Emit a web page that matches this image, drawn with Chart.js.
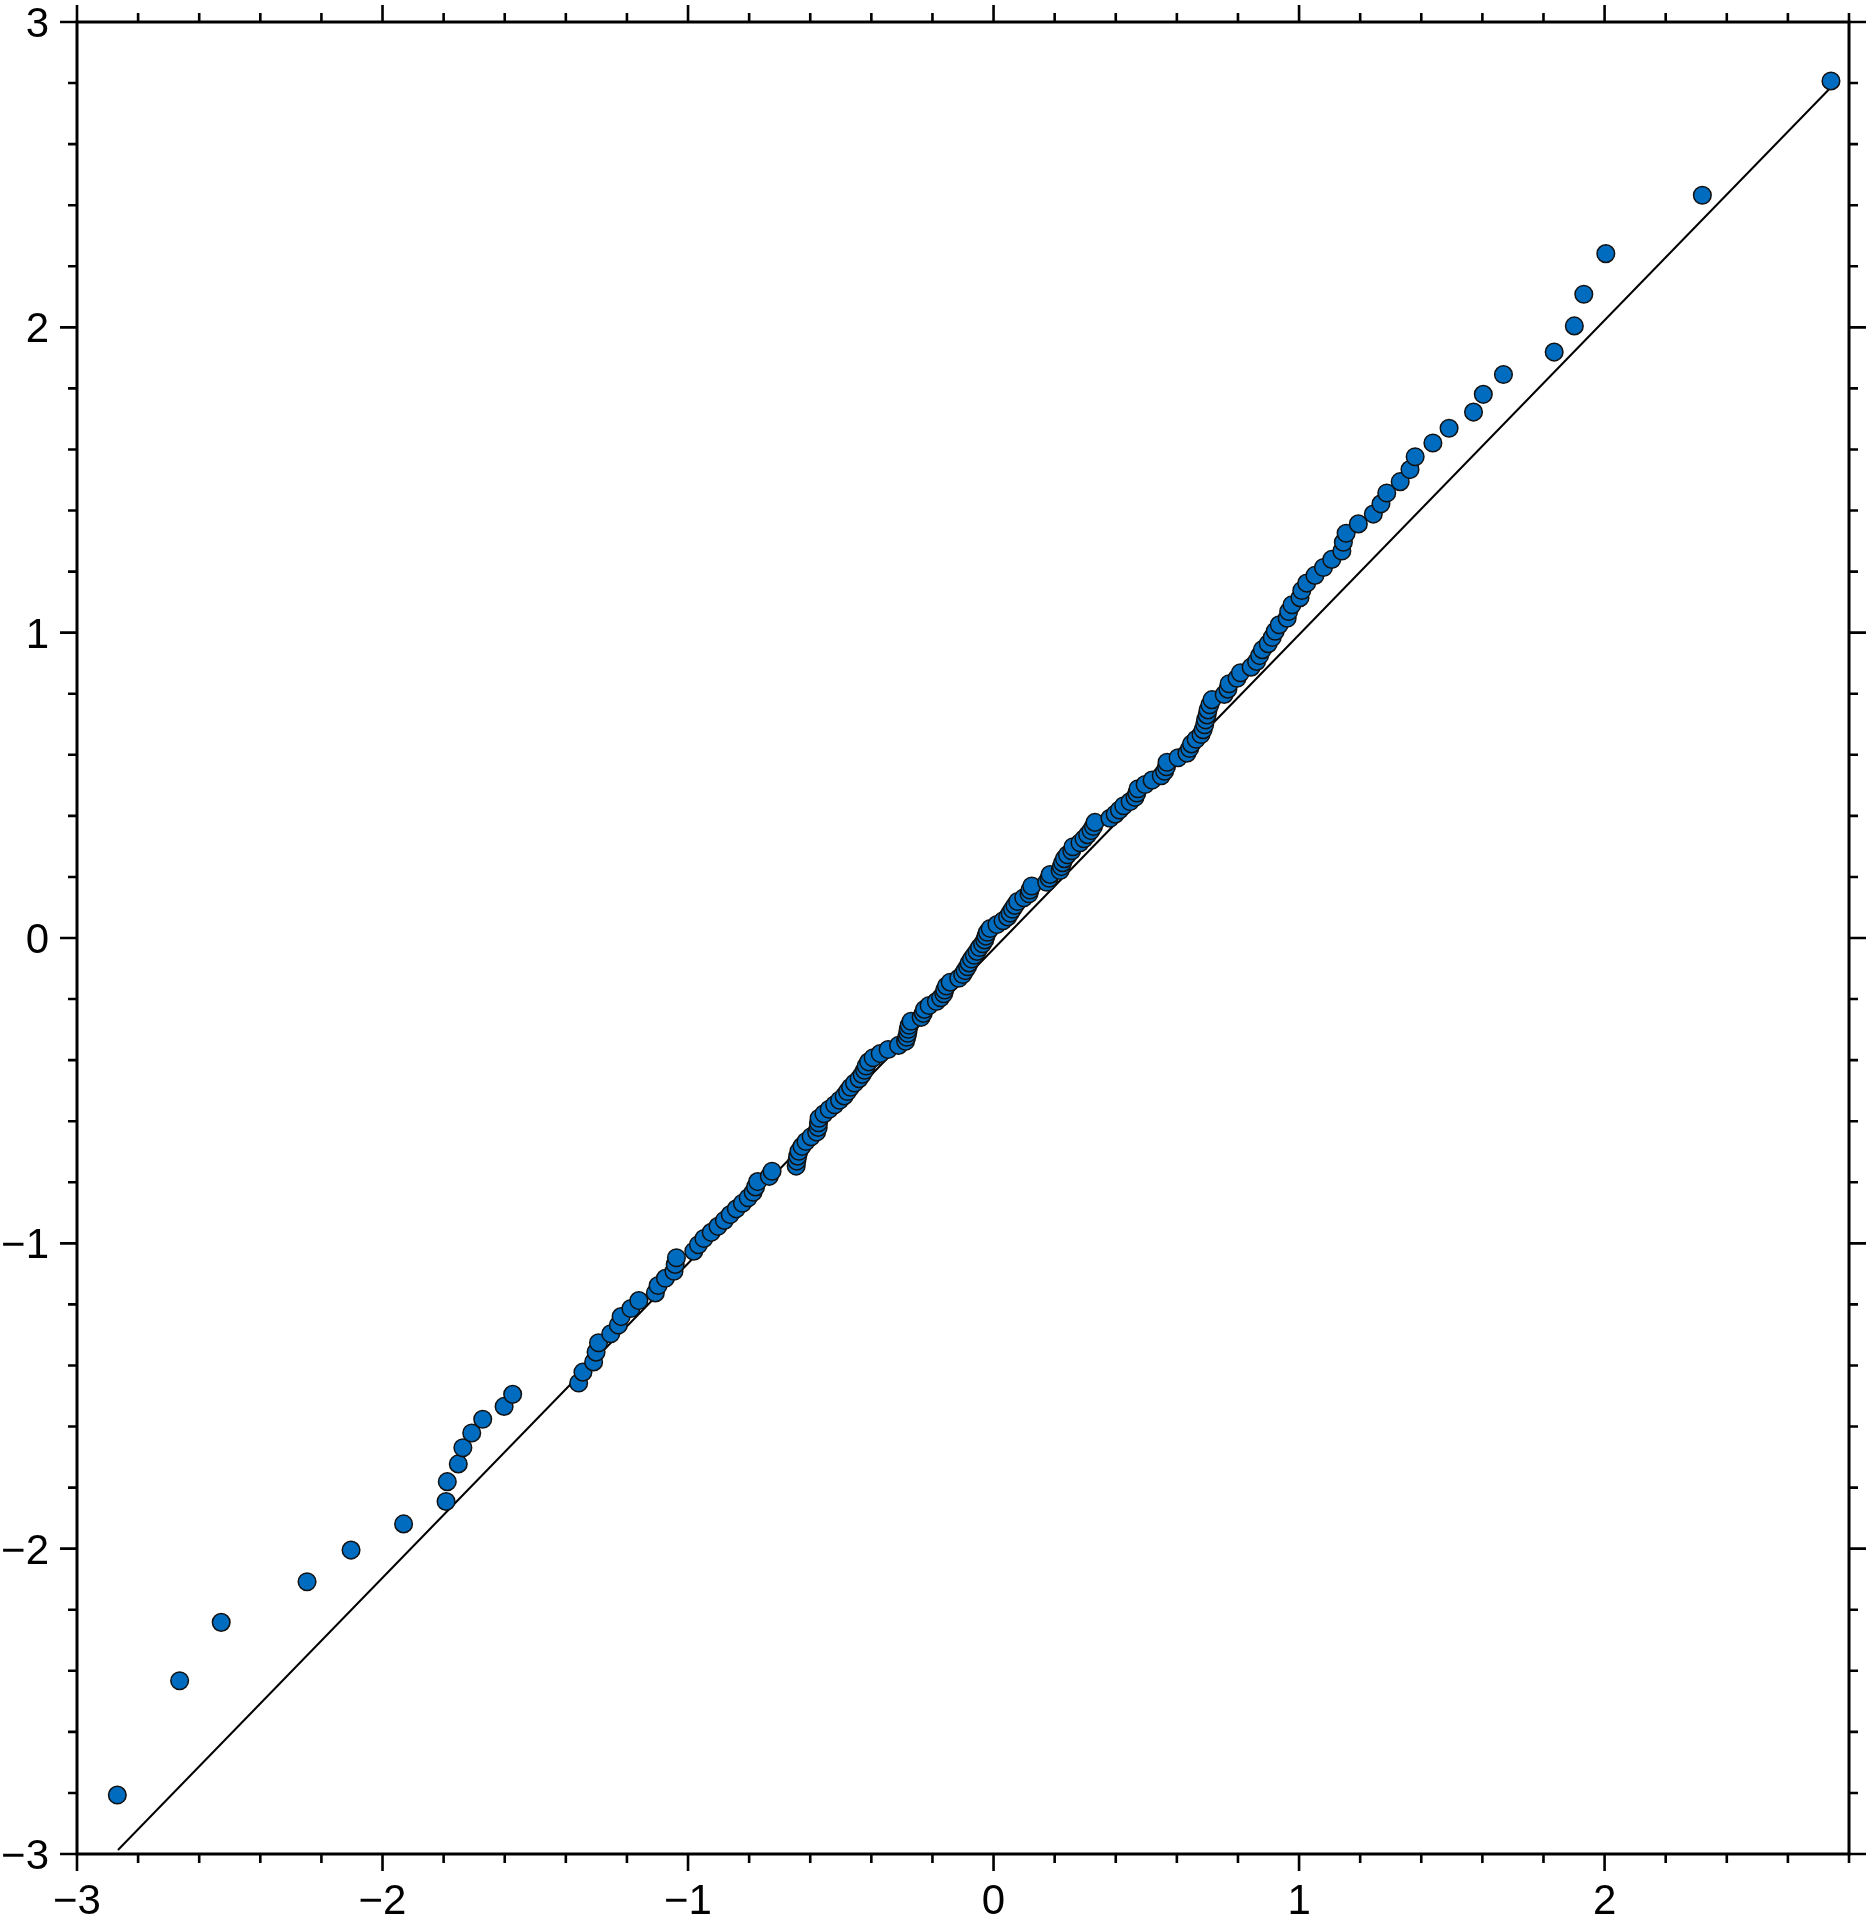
<!DOCTYPE html>
<html>
<head>
<meta charset="utf-8">
<title>Q-Q plot</title>
<script src="https://cdn.jsdelivr.net/npm/chart.js@4.4.0/dist/chart.umd.min.js"></script>
<style>
  html, body { margin: 0; padding: 0; background: #ffffff; }
  #wrap { width: 1871px; height: 1918px; }
</style>
</head>
<body>
<div id="wrap"><canvas id="qq" width="1871" height="1918"></canvas></div>
<script>
// theoretical normal quantiles (y) and sorted sample values (x)
const theoretical = [
  -2.8070, -2.4324, -2.2414, -2.1084, -2.0047, -1.9189, -1.8453, -1.7805, -1.7224, -1.6696,
  -1.6211, -1.5762, -1.5341, -1.4946, -1.4574, -1.4219, -1.3884, -1.3563, -1.3256, -1.2960,
  -1.2675, -1.2400, -1.2134, -1.1876, -1.1624, -1.1382, -1.1146, -1.0916, -1.0691, -1.0472,
  -1.0257, -1.0048, -0.9842, -0.9640, -0.9443, -0.9249, -0.9059, -0.8871, -0.8687, -0.8506,
  -0.8327, -0.8151, -0.7978, -0.7806, -0.7637, -0.7471, -0.7306, -0.7144, -0.6983, -0.6824,
  -0.6666, -0.6511, -0.6357, -0.6204, -0.6053, -0.5903, -0.5754, -0.5607, -0.5461, -0.5316,
  -0.5172, -0.5029, -0.4888, -0.4747, -0.4607, -0.4468, -0.4330, -0.4193, -0.4056, -0.3921,
  -0.3786, -0.3651, -0.3518, -0.3385, -0.3252, -0.3120, -0.2989, -0.2858, -0.2728, -0.2598,
  -0.2468, -0.2339, -0.2211, -0.2082, -0.1955, -0.1828, -0.1701, -0.1573, -0.1447, -0.1320,
  -0.1194, -0.1068, -0.0942, -0.0816, -0.0690, -0.0564, -0.0439, -0.0313, -0.0188, -0.0063,
  0.0063, 0.0188, 0.0313, 0.0439, 0.0564, 0.0690, 0.0816, 0.0942, 0.1068, 0.1194,
  0.1320, 0.1447, 0.1573, 0.1701, 0.1828, 0.1955, 0.2082, 0.2211, 0.2339, 0.2468,
  0.2598, 0.2728, 0.2858, 0.2989, 0.3120, 0.3252, 0.3385, 0.3518, 0.3651, 0.3786,
  0.3921, 0.4056, 0.4193, 0.4330, 0.4468, 0.4607, 0.4747, 0.4888, 0.5029, 0.5172,
  0.5316, 0.5461, 0.5607, 0.5754, 0.5903, 0.6053, 0.6204, 0.6357, 0.6511, 0.6666,
  0.6824, 0.6983, 0.7144, 0.7306, 0.7471, 0.7637, 0.7806, 0.7978, 0.8151, 0.8327,
  0.8506, 0.8687, 0.8871, 0.9059, 0.9249, 0.9443, 0.9640, 0.9842, 1.0048, 1.0257,
  1.0472, 1.0691, 1.0916, 1.1146, 1.1382, 1.1624, 1.1876, 1.2134, 1.2400, 1.2675,
  1.2960, 1.3256, 1.3563, 1.3884, 1.4219, 1.4574, 1.4946, 1.5341, 1.5762, 1.6211,
  1.6696, 1.7224, 1.7805, 1.8453, 1.9189, 2.0047, 2.1084, 2.2414, 2.4324, 2.8070
];
const sample = [
  -2.868, -2.664, -2.528, -2.247, -2.103, -1.931, -1.792, -1.788, -1.752, -1.737,
  -1.708, -1.672, -1.602, -1.574, -1.358, -1.344, -1.309, -1.301, -1.293, -1.253,
  -1.228, -1.219, -1.187, -1.161, -1.107, -1.098, -1.074, -1.046, -1.042, -1.038,
  -0.981, -0.966, -0.948, -0.924, -0.902, -0.881, -0.862, -0.842, -0.822, -0.803,
  -0.787, -0.779, -0.772, -0.734, -0.725, -0.646, -0.644, -0.641, -0.637, -0.627,
  -0.614, -0.597, -0.579, -0.574, -0.573, -0.571, -0.555, -0.538, -0.520, -0.504,
  -0.489, -0.478, -0.468, -0.455, -0.440, -0.430, -0.422, -0.417, -0.409, -0.394,
  -0.371, -0.345, -0.311, -0.288, -0.284, -0.281, -0.279, -0.276, -0.270, -0.237,
  -0.230, -0.226, -0.211, -0.187, -0.173, -0.163, -0.160, -0.154, -0.142, -0.114,
  -0.101, -0.093, -0.085, -0.080, -0.072, -0.063, -0.054, -0.046, -0.036, -0.029,
  -0.025, -0.020, -0.011, 0.011, 0.031, 0.046, 0.054, 0.062, 0.070, 0.079,
  0.099, 0.116, 0.119, 0.125, 0.174, 0.182, 0.185, 0.218, 0.222, 0.226,
  0.232, 0.242, 0.256, 0.260, 0.283, 0.296, 0.308, 0.319, 0.327, 0.332,
  0.381, 0.398, 0.412, 0.426, 0.447, 0.463, 0.469, 0.473, 0.496, 0.519,
  0.549, 0.560, 0.566, 0.568, 0.604, 0.633, 0.642, 0.648, 0.663, 0.679,
  0.686, 0.691, 0.694, 0.699, 0.702, 0.708, 0.715, 0.755, 0.767, 0.771,
  0.797, 0.808, 0.843, 0.861, 0.871, 0.880, 0.899, 0.912, 0.922, 0.935,
  0.961, 0.966, 0.977, 1.003, 1.009, 1.025, 1.052, 1.080, 1.107, 1.140,
  1.145, 1.154, 1.194, 1.243, 1.268, 1.287, 1.331, 1.363, 1.380, 1.438,
  1.491, 1.571, 1.603, 1.669, 1.835, 1.901, 1.932, 2.004, 2.320, 2.741
];

// reference line end points
const lineX = [-2.866, 2.738];
const lineY = [-2.987, 2.783];

// axis ticks
const xTicks = [-3, -2, -1, 0, 1, 2];
const yTicks = [-3, -2, -1, 0, 1, 2, 3];
const minorTicks = [-2.8, -2.6, -2.4, -2.2, -1.8, -1.6, -1.4, -1.2, -0.8, -0.6, -0.4, -0.2,
                    0.2, 0.4, 0.6, 0.8, 1.2, 1.4, 1.6, 1.8, 2.2, 2.4, 2.6, 2.8];

const pts = sample.map((x, i) => ({ x: x, y: theoretical[i] }));
const linePts = lineX.map((x, i) => ({ x: x, y: lineY[i] }));

function label(v) {
    return v < 0 ? '\u2212' + Math.abs(v) : String(v);
}

// frame, ticks on all sides, labels on left and bottom (GMT style)
const gmtFrame = {
    id: 'gmtFrame',
    afterDraw(chart) {
        const ctx = chart.ctx;
        const a = chart.chartArea;
        const xs = chart.scales.x;
        const ys = chart.scales.y;
        const major = 17, minor = 9;
        ctx.save();
        ctx.strokeStyle = '#000';
        ctx.lineWidth = 2.6;
        ctx.lineCap = 'butt';
        ctx.beginPath();
        minorTicks.forEach(v => {
            const px = xs.getPixelForValue(v);
            if (v <= xs.max) {
                ctx.moveTo(px, a.bottom); ctx.lineTo(px, a.bottom + minor);
                ctx.moveTo(px, a.top); ctx.lineTo(px, a.top - minor);
            }
            const py = ys.getPixelForValue(v);
            ctx.moveTo(a.left, py); ctx.lineTo(a.left - minor, py);
            ctx.moveTo(a.right, py); ctx.lineTo(a.right + minor, py);
        });
        xTicks.forEach(v => {
            const px = xs.getPixelForValue(v);
            ctx.moveTo(px, a.bottom); ctx.lineTo(px, a.bottom + major);
            ctx.moveTo(px, a.top); ctx.lineTo(px, a.top - major);
        });
        yTicks.forEach(v => {
            const py = ys.getPixelForValue(v);
            ctx.moveTo(a.left, py); ctx.lineTo(a.left - major, py);
            ctx.moveTo(a.right, py); ctx.lineTo(a.right + major, py);
        });
        ctx.stroke();

        ctx.lineWidth = 3;
        ctx.strokeRect(a.left, a.top, a.right - a.left, a.bottom - a.top);

        ctx.fillStyle = '#000';
        ctx.font = '42px "Liberation Sans", Arial, Helvetica, sans-serif';
        ctx.textBaseline = 'alphabetic';
        ctx.textAlign = 'center';
        xTicks.forEach(v => {
            ctx.fillText(label(v), xs.getPixelForValue(v), a.bottom + 60);
        });
        ctx.textAlign = 'right';
        yTicks.forEach(v => {
            ctx.fillText(label(v), a.left - 28, ys.getPixelForValue(v) + 15);
        });
        ctx.restore();
    }
};

new Chart(document.getElementById('qq'), {
    type: 'scatter',
    data: {
        datasets: [{
            label: 'sample',
            data: pts,
            order: 0,
            pointRadius: 8.8,
            pointHoverRadius: 8.8,
            pointBackgroundColor: '#006cbf',
            pointBorderColor: '#111',
            pointBorderWidth: 1.5,
            showLine: false
        }, {
            label: 'reference',
            data: linePts,
            order: 1,
            showLine: true,
            pointRadius: 0,
            borderColor: '#000',
            borderWidth: 2,
            fill: false
        }]
    },
    options: {
        responsive: false,
        animation: false,
        devicePixelRatio: 1,
        layout: { padding: { left: 77, top: 22, right: 22, bottom: 64 } },
        plugins: {
            legend: { display: false },
            tooltip: { enabled: false }
        },
        scales: {
            x: { type: 'linear', min: -3, max: 2.8, display: false },
            y: { type: 'linear', min: -3, max: 3, display: false }
        }
    },
    plugins: [gmtFrame]
});
</script>
</body>
</html>
